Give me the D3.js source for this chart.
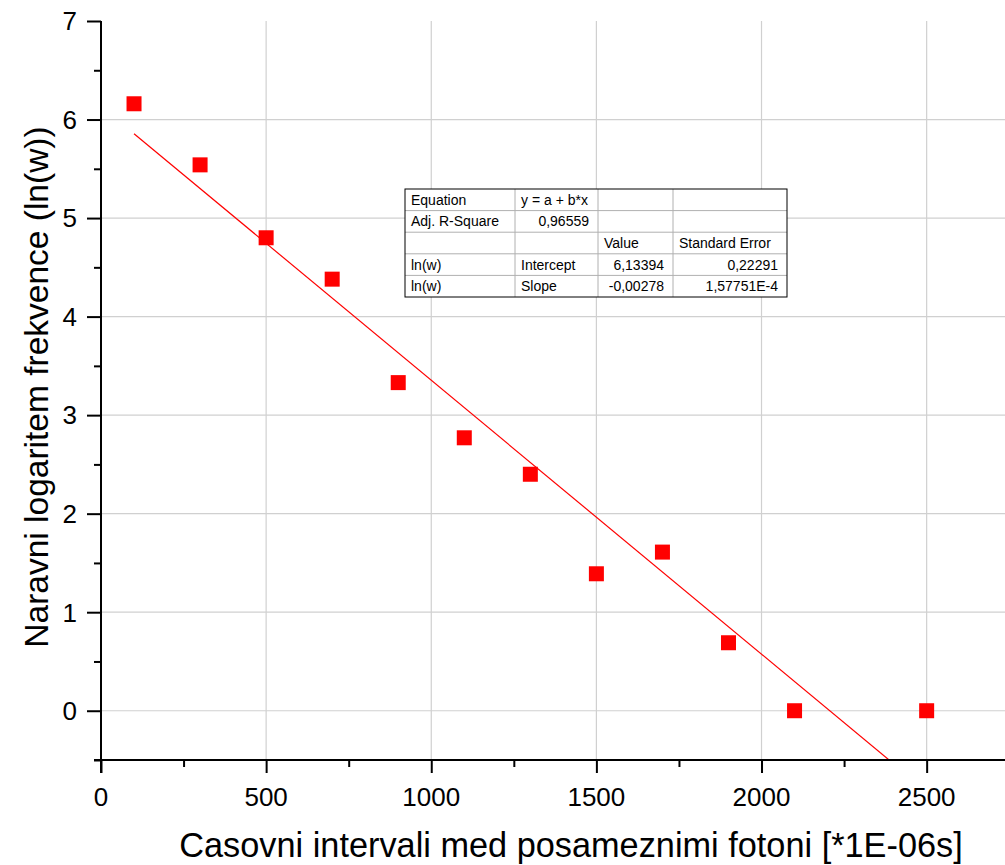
<!DOCTYPE html>
<html>
<head>
<meta charset="utf-8">
<script src="https://cdn.jsdelivr.net/npm/d3@7"></script>
<style>
  body { margin: 0; background: #fff; }
  svg { display: block; font-family: "Liberation Sans", Arial, sans-serif; }
</style>
</head>
<body>
<svg id="chart" width="1005" height="865"></svg>
<script>
// measured points: x = interval, y = ln(w)
const intervals = [100, 300, 500, 700, 900, 1100, 1300, 1500, 1700, 1900, 2100, 2500];
const lnW = [6.16, 5.54, 4.80, 4.38, 3.33, 2.77, 2.40, 1.39, 1.61, 0.69, 0, 0];

// linear fit from the result table
const intercept = 6.13394;
const slope = -0.00278;
const fitX = [100, 2500];

const xTicks = [0, 500, 1000, 1500, 2000, 2500];
const yTicks = [0, 1, 2, 3, 4, 5, 6, 7];

const tableRows = [
  ["Equation", "y = a + b*x", "", ""],
  ["Adj. R-Square", "0,96559", "", ""],
  ["", "", "Value", "Standard Error"],
  ["ln(w)", "Intercept", "6,13394", "0,22291"],
  ["ln(w)", "Slope", "-0,00278", "1,57751E-4"]
];

const svg = d3.select("#chart");

const x = d3.scaleLinear().domain([0, 2750]).range([101, 101 + 2750 * 0.33026]);
const y = d3.scaleLinear().domain([-0.5, 7]).range([760, 21]);

// grid
const grid = svg.append("g").attr("stroke", "#d0d0d0").attr("stroke-width", 1.2);
grid.selectAll("line.v")
  .data(xTicks.filter(d => d > 0))
  .enter().append("line")
  .attr("x1", d => x(d)).attr("x2", d => x(d))
  .attr("y1", y(7)).attr("y2", y(-0.5));
grid.selectAll("line.h")
  .data(yTicks.filter(d => d < 7))
  .enter().append("line")
  .attr("x1", x(0)).attr("x2", 1005)
  .attr("y1", d => y(d)).attr("y2", d => y(d));

// clip for the fit line
svg.append("clipPath").attr("id", "plotclip")
  .append("rect")
  .attr("x", x(0)).attr("y", y(7))
  .attr("width", 1005 - x(0)).attr("height", y(-0.5) - y(7));

svg.append("line")
  .attr("clip-path", "url(#plotclip)")
  .attr("x1", x(fitX[0])).attr("y1", y(intercept + slope * fitX[0]))
  .attr("x2", x(fitX[1])).attr("y2", y(intercept + slope * fitX[1]))
  .attr("stroke", "#ff0000")
  .attr("stroke-width", 1.2);

// points
const ms = 15;
svg.selectAll("rect.pt")
  .data(intervals.map((d, i) => ({ x: d, y: lnW[i] })))
  .enter().append("rect")
  .attr("class", "pt")
  .attr("x", d => x(d.x) - ms / 2)
  .attr("y", d => y(d.y) - ms / 2)
  .attr("width", ms).attr("height", ms)
  .attr("fill", "#ff0000");

// axes
const xAxis = d3.axisBottom(x)
  .tickValues(d3.range(0, 2751, 250))
  .tickSize(0)
  .tickFormat("");
const gx = svg.append("g").attr("transform", "translate(0," + y(-0.5) + ")").call(xAxis);
gx.select(".domain").remove();
gx.append("line").attr("x1", x(0) - 7).attr("x2", 1005).attr("y1", 0).attr("y2", 0)
  .attr("stroke", "#000").attr("stroke-width", 2);
gx.selectAll(".tick line")
  .attr("stroke", "#000").attr("stroke-width", 2)
  .attr("y2", d => d % 500 === 0 ? 13 : 7);

svg.append("g").selectAll("text")
  .data(xTicks)
  .enter().append("text")
  .attr("x", d => x(d))
  .attr("y", 806)
  .attr("text-anchor", "middle")
  .attr("font-size", 26)
  .text(d => d);

const yAxis = d3.axisLeft(y)
  .tickValues(d3.range(-0.5, 7.01, 0.5))
  .tickSize(0)
  .tickFormat("");
const gy = svg.append("g").attr("transform", "translate(" + x(0) + ",0)").call(yAxis);
gy.select(".domain").remove();
gy.append("line").attr("x1", 0).attr("x2", 0).attr("y1", y(7)).attr("y2", y(-0.5) + 13)
  .attr("stroke", "#000").attr("stroke-width", 2);
gy.selectAll(".tick line")
  .attr("stroke", "#000").attr("stroke-width", 2)
  .attr("x2", d => Number.isInteger(d) ? -14 : -7);

svg.append("g").selectAll("text")
  .data(yTicks)
  .enter().append("text")
  .attr("x", 77)
  .attr("y", d => y(d))
  .attr("dy", "0.36em")
  .attr("text-anchor", "end")
  .attr("font-size", 26)
  .text(d => d);

// axis titles
svg.append("text")
  .attr("x", 571)
  .attr("y", 857)
  .attr("text-anchor", "middle")
  .attr("font-size", 34.3)
  .text("Casovni intervali med posameznimi fotoni [*1E-06s]");

svg.append("text")
  .attr("transform", "translate(48,387) rotate(-90)")
  .attr("text-anchor", "middle")
  .attr("font-size", 33.5)
  .text("Naravni logaritem frekvence (ln(w))");

// fit result table
const colX = [405, 515, 598, 673, 787];
const rowTop = 189, rowH = 21.6;
const tbl = svg.append("g");
tbl.append("rect")
  .attr("x", colX[0]).attr("y", rowTop)
  .attr("width", colX[4] - colX[0]).attr("height", rowH * tableRows.length)
  .attr("fill", "#fff");
for (let r = 1; r < tableRows.length; r++) {
  tbl.append("line")
    .attr("x1", colX[0]).attr("x2", colX[4])
    .attr("y1", rowTop + r * rowH).attr("y2", rowTop + r * rowH)
    .attr("stroke", "#b0b0b0").attr("stroke-width", 1);
}
for (let c = 1; c < 4; c++) {
  tbl.append("line")
    .attr("x1", colX[c]).attr("x2", colX[c])
    .attr("y1", rowTop).attr("y2", rowTop + rowH * tableRows.length)
    .attr("stroke", "#b0b0b0").attr("stroke-width", 1);
}
tbl.append("rect")
  .attr("x", colX[0]).attr("y", rowTop)
  .attr("width", colX[4] - colX[0]).attr("height", rowH * tableRows.length)
  .attr("fill", "none").attr("stroke", "#000").attr("stroke-width", 1);

const isNum = s => /^-?[0-9][0-9,]*(E-?[0-9]+)?$/.test(s);
tableRows.forEach((row, r) => {
  row.forEach((cell, c) => {
    if (!cell) return;
    const right = isNum(cell);
    tbl.append("text")
      .attr("x", right ? colX[c + 1] - 9 : colX[c] + 6)
      .attr("y", rowTop + r * rowH + rowH / 2)
      .attr("dy", "0.36em")
      .attr("text-anchor", right ? "end" : "start")
      .attr("font-size", 14)
      .text(cell);
  });
});
</script>
</body>
</html>
